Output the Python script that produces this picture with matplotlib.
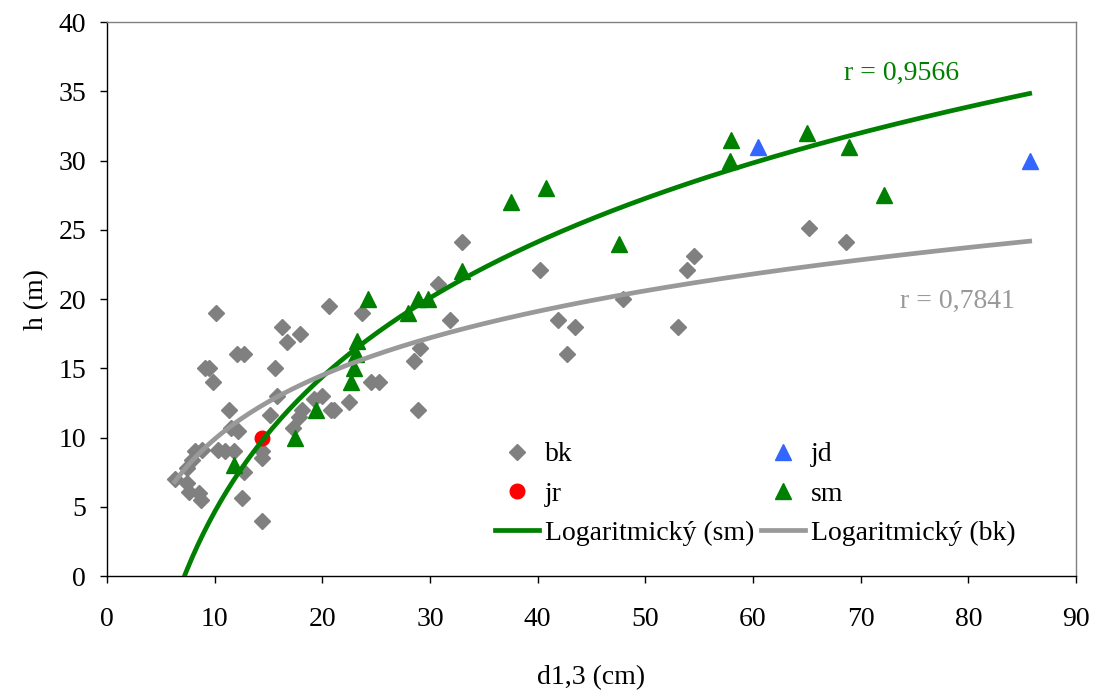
import numpy as np
import matplotlib
matplotlib.use('Agg')
import matplotlib.pyplot as plt

plt.rcParams['font.family'] = ['Liberation Serif', 'DejaVu Serif']
plt.rcParams['font.size'] = 20

# data: d1,3 (cm), h (m)
bk_d = [6.3, 7.4, 7.4, 7.6, 7.9, 8.2, 8.5, 8.7, 8.8, 9.1, 9.5, 9.8, 10.1, 10.3,
        11.0, 11.3, 11.5, 11.8, 12.1, 12.2, 12.5, 12.7, 12.7, 14.4, 14.4, 14.4,
        15.1, 15.6, 15.8, 16.3, 16.7, 17.3, 17.8, 17.9, 18.1, 19.2, 20.0, 20.6,
        20.8, 21.1, 22.5, 23.7, 24.5, 25.3, 28.5, 28.9, 29.1, 30.7, 31.9, 33.0,
        40.2, 41.9, 42.7, 43.5, 47.9, 53.0, 53.9, 54.5, 65.2, 68.6]
bk_h = [7.0, 6.7, 7.8, 6.1, 8.4, 9.0, 6.0, 5.5, 9.1, 15.0, 15.0, 14.0, 19.0, 9.1,
        9.0, 12.0, 10.7, 9.0, 16.0, 10.5, 5.6, 16.0, 7.5, 9.0, 8.5, 4.0,
        11.6, 15.0, 13.0, 18.0, 16.9, 10.7, 11.5, 17.5, 12.0, 12.8, 13.0, 19.5,
        12.0, 12.0, 12.6, 19.0, 14.0, 14.0, 15.5, 12.0, 16.5, 21.1, 18.5, 24.1,
        22.1, 18.5, 16.0, 18.0, 20.0, 18.0, 22.1, 23.1, 25.1, 24.1]

sm_d = [11.8, 17.5, 19.4, 22.7, 22.9, 23.1, 23.2, 24.2, 28.0, 28.9, 29.8, 33.0,
        37.5, 40.8, 47.6, 57.9, 58.0, 65.0, 68.9, 72.2]
sm_h = [8.0, 10.0, 12.0, 14.0, 15.0, 16.0, 17.0, 20.0, 19.0, 20.0, 20.0, 22.0,
        27.0, 28.0, 24.0, 30.0, 31.5, 32.0, 31.0, 27.5]

jd_d = [60.5, 85.7]
jd_h = [31.0, 30.0]

jr_d = [14.4]
jr_h = [10.0]

r_sm = '0,9566'
r_bk = '0,7841'

fig = plt.figure(figsize=(10.93, 6.92), dpi=100)
ax = fig.add_axes([0.0979, 0.1676, 0.8865, 0.8004])

# logarithmic trend lines (like Excel) fitted on the data
all_d = bk_d + sm_d + jd_d + jr_d
xs = np.linspace(min(all_d), max(all_d), 300)
a_sm, b_sm = np.polyfit(np.log(sm_d), sm_h, 1)
a_bk, b_bk = np.polyfit(np.log(bk_d), bk_h, 1)

p_bk, = ax.plot(bk_d, bk_h, 'D', color='#808080', ms=8, mec='#808080', ls='none', label='bk', zorder=3)
p_jd, = ax.plot(jd_d, jd_h, '^', color='#3366ff', ms=11.5, ls='none', label='jd', zorder=3)
p_jr, = ax.plot(jr_d, jr_h, 'o', color='#ff0000', ms=10.5, ls='none', label='jr', zorder=3)
p_sm, = ax.plot(sm_d, sm_h, '^', color='#008000', ms=11.5, ls='none', label='sm', zorder=3)
l_sm, = ax.plot(xs, a_sm * np.log(xs) + b_sm, color='#008000', lw=3.4, label='Logaritmický (sm)', zorder=4)
l_bk, = ax.plot(xs, a_bk * np.log(xs) + b_bk, color='#999999', lw=3.4, label='Logaritmický (bk)', zorder=4)

ax.text(73.8, 36.3, 'r = ' + r_sm, color='#008000', ha='center', va='center', fontsize=20)
ax.text(79.0, 19.8, 'r = ' + r_bk, color='#999999', ha='center', va='center', fontsize=20)

ax.set_xlim(0, 90)
ax.set_ylim(0, 40)
ax.set_xticks(np.arange(0, 91, 10))
ax.set_yticks(np.arange(0, 41, 5))
ax.tick_params(direction='out', length=5, width=1, labelsize=20)
ax.tick_params(axis='x', pad=17)
ax.tick_params(axis='y', pad=10)
ax.set_xlabel('d1,3 (cm)', fontsize=20, labelpad=24)
ax.set_ylabel('h (m)', fontsize=20, labelpad=7)

for s in ['left', 'bottom']:
    ax.spines[s].set_color('black')
    ax.spines[s].set_linewidth(1)
for s in ['top', 'right']:
    ax.spines[s].set_color('#808080')
    ax.spines[s].set_linewidth(1)

ax.legend([p_bk, p_jr, l_sm, p_jd, p_sm, l_bk],
          ['bk', 'jr', 'Logaritmický (sm)', 'jd', 'sm', 'Logaritmický (bk)'],
          ncol=2, frameon=False, loc='lower left', bbox_to_anchor=(0.40, 0.054),
          borderpad=0, borderaxespad=0, handlelength=1.6, handletextpad=0.2,
          columnspacing=0.25, labelspacing=0.5, fontsize=20)

fig.savefig('out.png', dpi=100)
